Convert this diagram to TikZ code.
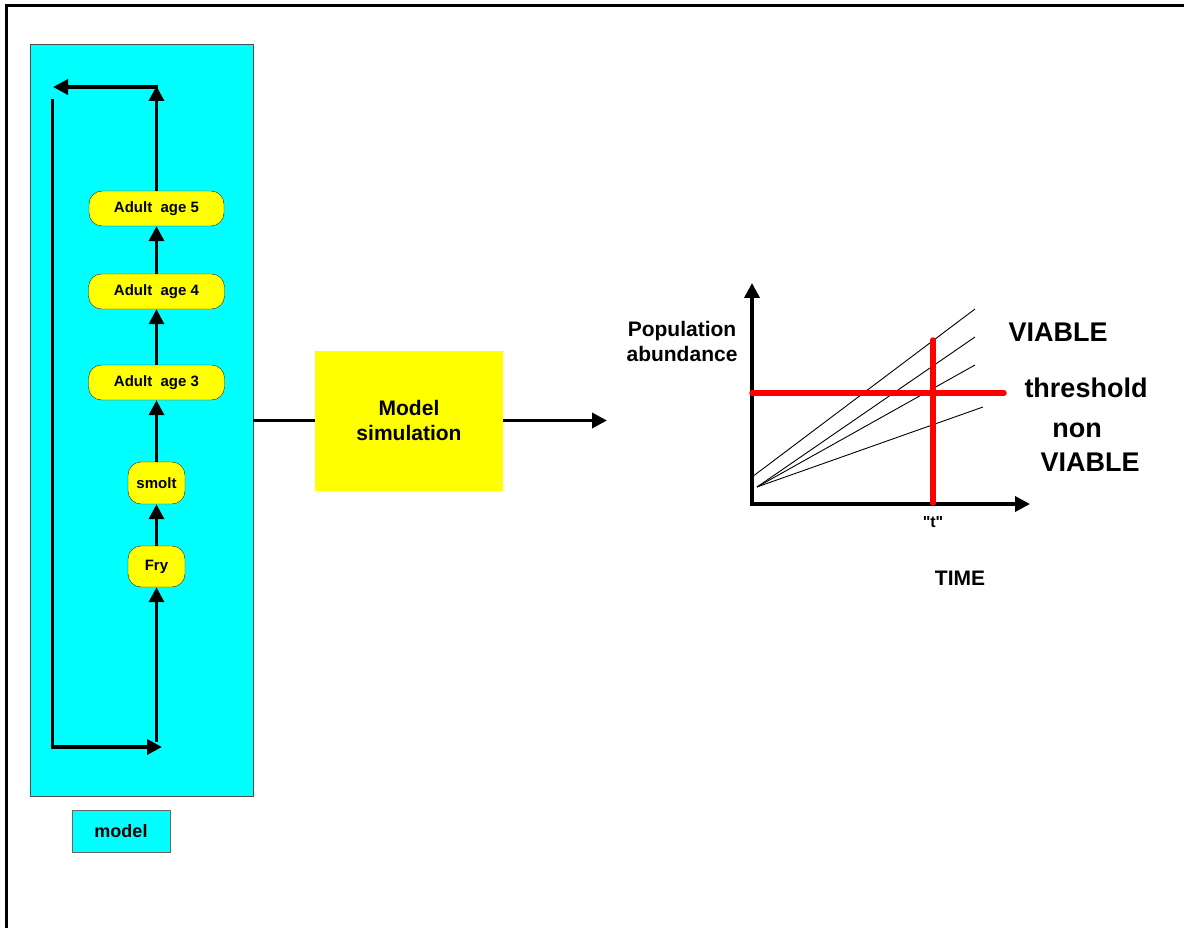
\documentclass[tikz,border=0pt]{standalone}
\usepackage{fontspec}
\setmainfont{Liberation Sans}
\newfontfamily\qfont{Liberation Sans}[Ligatures=TeXOff]
\usetikzlibrary{arrows.meta}
\definecolor{pcyan}{RGB}{0,255,255}
\definecolor{pyellow}{RGB}{255,255,0}
\definecolor{pred}{RGB}{255,0,0}
\begin{document}
\begin{tikzpicture}[x=1pt,y=-1pt,
  stage/.style={draw=black!85, fill=pyellow, rounded corners=13pt, font=\fontsize{15}{18}\selectfont\bfseries, inner sep=0pt, minimum height=35pt},
  tip/.tip={Triangle[length=15pt,width=15pt]},
  arr/.style={line width=3.5pt, -tip},
  lbl/.style={font=\fontsize{21}{25}\selectfont\bfseries, align=center, inner sep=0pt},
  big/.style={font=\fontsize{27}{32}\selectfont\bfseries, inner sep=0pt},
  thinl/.style={line width=0.9pt},
  redl/.style={pred, line width=5.5pt, line cap=round}]
\useasboundingbox (0,0) rectangle (1184,928);
\draw[line width=3pt] (6,928) -- (6,6) -- (1184,6);
% model panel
\node[draw=black!70, fill=pcyan, minimum width=223pt, minimum height=752pt, inner sep=0pt, anchor=north west] (panel) at (30,44) {};
\node[stage, minimum width=135pt] (a5) at (156.5,208.5) {Adult\ \ age 5};
\node[stage, minimum width=136pt] (a4) at (156.5,291.5) {Adult\ \ age 4};
\node[stage, minimum width=136pt] (a3) at (156.5,382.5) {Adult\ \ age 3};
\node[stage, minimum width=57pt, minimum height=42pt] (smolt) at (156.5,483) {smolt};
\node[stage, minimum width=57pt, minimum height=41pt] (fry) at (156.5,566.5) {Fry};
\draw[arr] (fry) -- (smolt);
\draw[arr] (smolt) -- (a3);
\draw[arr] (a3) -- (a4);
\draw[arr] (a4) -- (a5);
\coordinate (tr) at (156.5,86);
\coordinate (tl) at (53,87);
\coordinate (trh) at (158,87);
\draw[arr] (a5.north) -- (tr);
\draw[arr] (trh) -- (tl);
\coordinate (lt) at (52.5,99);
\coordinate (lb) at (52.5,747);
\coordinate (br) at (162,747);
\draw[arr] (lt) -- (lb) -- (br);
\coordinate (rb) at (156.5,742);
\draw[arr] (rb) -- (fry.south);
\node[draw=black!60, fill=pcyan, minimum width=98pt, minimum height=42pt, inner sep=0pt, font=\fontsize{18}{21}\selectfont\bfseries] (mlabel) at (121,831) {model};
% simulation
\node[fill=pyellow, minimum width=188pt, minimum height=140pt, inner sep=0pt, lbl] (sim) at (409,420.5) {Model\\simulation};
\draw[line width=3.5pt] (panel.east |- sim.west) -- (sim.west);
\coordinate (out) at (607,420.5);
\draw[arr] (sim.east) -- (out);
% graph
\coordinate (O) at (752,504);
\coordinate (ytop) at (752,283);
\coordinate (xend) at (1030,504);
\draw[line width=3.5pt, tip-tip] (ytop) -- (O) -- (xend);
\draw[thinl] (752,477) -- (975,309);
\draw[thinl] (757,487) -- (975,337);
\draw[thinl] (757,487) -- (975,365);
\draw[thinl] (757,487) -- (983,407);
\draw[redl] (752,393) -- (1004,393);
\draw[redl] (933,340) -- (933,503);
\node[lbl] (ylab) at (682,341) {Population\\abundance};
\node[big] (viable) at (1058,332) {VIABLE};
\node[big] (thr) at (1086,388) {threshold};
\node[big] (non) at (1077,430) {non};
\node[big] (nviable) at (1090,462) {VIABLE};
\node[font=\qfont\fontsize{16}{19}\selectfont\bfseries, inner sep=0pt] (t) at (933,522) {"t"};
\node[lbl] (time) at (960,578) {TIME};
\end{tikzpicture}
\end{document}
